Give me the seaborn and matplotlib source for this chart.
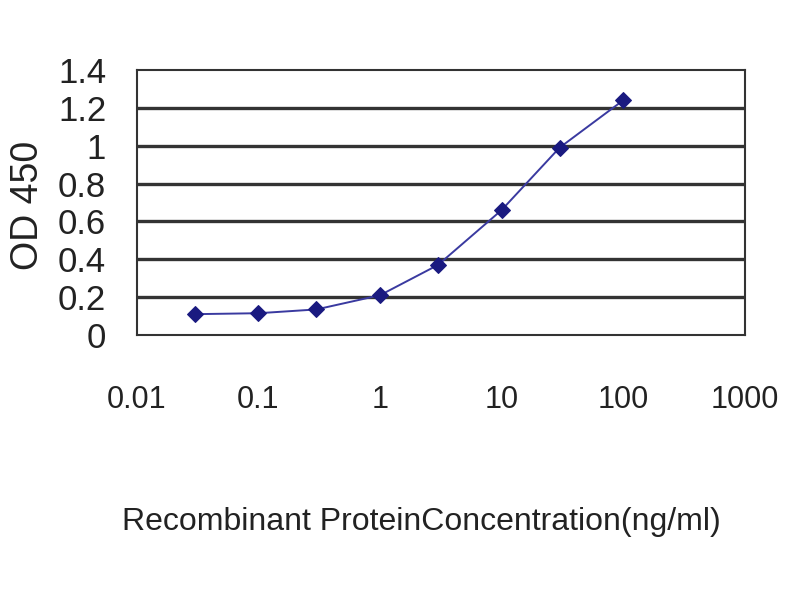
import numpy as np
import pandas as pd
import seaborn as sns
import matplotlib
matplotlib.use('Agg')
import matplotlib.pyplot as plt

# dados
concentracao = [0.03, 0.1, 0.3, 1, 3, 10, 30, 100]
od450 = [0.11, 0.115, 0.135, 0.21, 0.37, 0.66, 0.99, 1.24]
ticks_x = [0.01, 0.1, 1, 10, 100, 1000]
rotulos_x = ['0.01', '0.1', '1', '10', '100', '1000']
ticks_y = [0, 0.2, 0.4, 0.6, 0.8, 1, 1.2, 1.4]
rotulos_y = ['0', '0.2', '0.4', '0.6', '0.8', '1', '1.2', '1.4']

df = pd.DataFrame({'conc': concentracao, 'od': od450})

sns.set_style('white')
plt.rcParams['font.family'] = ['Liberation Sans', 'DejaVu Sans']

fig = plt.figure(figsize=(8, 6), dpi=100)
ax = fig.add_axes([0.171, 0.4417, 0.76, 0.4416])

for v in ticks_y[1:-1]:
    ax.axhline(v, color='#333333', lw=2.4, zorder=1)

sns.lineplot(data=df, x='conc', y='od', color='#3a3aa0', lw=1.4,
             marker='D', markersize=8.5, markerfacecolor='#1a1a80',
             markeredgecolor='#1a1a80', ax=ax, zorder=3)

ax.set_xscale('log')
ax.set_xlim(0.01, 1000)
ax.set_ylim(0, 1.4)
ax.set_xticks(ticks_x)
ax.set_xticklabels(rotulos_x)
ax.set_yticks(ticks_y)
ax.set_yticklabels(rotulos_y)
ax.minorticks_off()
ax.tick_params(axis='x', direction='inout', length=8, width=1.2,
               labelsize=22, pad=32, color='#222222', labelcolor='#222222')
ax.tick_params(axis='y', direction='in', length=0, labelsize=25, pad=22,
               labelcolor='#222222')

for s in ax.spines.values():
    s.set_color('#333333')
    s.set_linewidth(1.5)

ax.set_xlabel('')
ax.set_ylabel('')
fig.text(421 / 800, 1 - 522 / 600, 'Recombinant ProteinConcentration(ng/ml)',
         fontsize=23, ha='center', va='center', color='#222222')
fig.text(28 / 800, 1 - 205 / 600, 'OD 450', fontsize=27, rotation=90,
         ha='center', va='center', color='#222222')

fig.savefig('out.png', dpi=100)
